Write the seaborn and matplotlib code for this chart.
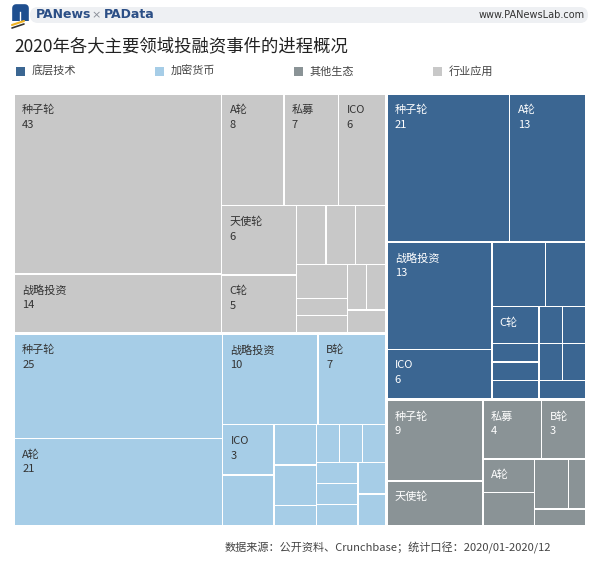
import matplotlib
matplotlib.use("Agg")
import matplotlib.pyplot as plt
from matplotlib.patches import Rectangle, FancyBboxPatch
import seaborn as sns

# legend order
groups = ["底层技术", "加密货币", "其他生态", "行业应用"]
palette = sns.color_palette(["#3b6692", "#a6cde7", "#8a9396", "#c8c8c8"])
text_colors = ["white", "#333333", "white", "#333333"]

# leaves per group ("" = cell without a label)
names = {
    "行业应用": ["种子轮", "战略投资", "A轮", "私募", "ICO", "天使轮", "C轮",
             "", "", "", "", "", "", "", "", ""],
    "加密货币": ["种子轮", "A轮", "战略投资", "B轮", "ICO", "", "", "",
             "", "", "", "", "", "", "", "", ""],
    "底层技术": ["种子轮", "A轮", "战略投资", "ICO", "", "", "C轮",
             "", "", "", "", "", "", "", ""],
    "其他生态": ["种子轮", "天使轮", "私募", "B轮", "A轮", "", "", "", ""],
}
values = {
    "行业应用": [43, 14, 8, 7, 6, 6, 5, 2, 2, 2, 2, 1, 1, 1, 1, 1],
    "加密货币": [25, 21, 10, 7, 3, 3, 2, 2, 1, 1, 1, 1, 1, 1, 1, 1, 1],
    "底层技术": [21, 13, 13, 6, 4, 3, 2, 1, 1, 1, 1, 1, 1, 1, 1],
    "其他生态": [9, 5, 4, 3, 2, 2, 2, 1, 1],
}
# labels that show the name only
no_value = {("底层技术", "C轮"), ("其他生态", "天使轮"), ("其他生态", "A轮")}

title = "2020年各大主要领域投融资事件的进程概况"
source = "数据来源：公开资料、Crunchbase；统计口径：2020/01-2020/12"

PHI = (1 + 5 ** 0.5) / 2


def squarify(vals, x0, y0, x1, y1):
    # d3 style squarified layout (target ratio = golden ratio), y grows downward
    rects = []
    total = float(sum(vals))
    i0, n = 0, len(vals)
    while i0 < n:
        dx, dy = x1 - x0, y1 - y0
        s = vals[i0]
        vmin = vmax = s
        alpha = max(dy / dx, dx / dy) / (total * PHI)
        beta = s * s * alpha
        best = max(vmax / beta, beta / vmin)
        i1 = i0 + 1
        while i1 < n:
            v = vals[i1]
            beta = (s + v) ** 2 * alpha
            r = max(max(vmax, v) / beta, beta / min(vmin, v))
            if r > best:
                break
            s += v
            vmin, vmax, best = min(vmin, v), max(vmax, v), r
            i1 += 1
        if dx < dy:
            yb = y0 + dy * s / total
            xx = x0
            for v in vals[i0:i1]:
                w = dx * v / s
                rects.append((xx, y0, w, yb - y0))
                xx += w
            y0 = yb
        else:
            xb = x0 + dx * s / total
            yy = y0
            for v in vals[i0:i1]:
                h = dy * v / s
                rects.append((x0, yy, xb - x0, h))
                yy += h
            x0 = xb
        total -= s
        i0 = i1
    return rects


sns.set_theme(style="white")
plt.rcParams["font.family"] = ["Noto Sans CJK SC", "DejaVu Sans"]

W, H = 600, 565
fig = plt.figure(figsize=(W / 100, H / 100), dpi=100)
ax = fig.add_axes([0, 0, 1, 1])
ax.set_xlim(0, W)
ax.set_ylim(H, 0)
ax.axis("off")

# header bar + logo
ax.add_patch(FancyBboxPatch((30, 7), 558, 16, boxstyle="round,pad=0,rounding_size=8",
                            fc="#eef0f3", ec="none"))
ax.plot([16, 16, 25, 25], [21, 8, 8, 21], color="#1f4f8f", lw=5.5,
        solid_joinstyle="round", solid_capstyle="butt")
ax.plot([12, 24], [25, 21], color="#f0b323", lw=1.5)
ax.plot([12, 24], [28, 24], color="#333333", lw=1.2)
ax.text(36, 15, "PANews", fontsize=9, fontweight="bold",
        color="#2c4f86", va="center", family=["DejaVu Sans"])
ax.text(96, 15, "×", fontsize=8, color="#8a8f99", va="center", ha="center",
        family=["DejaVu Sans"])
ax.text(104, 15, "PAData", fontsize=9, fontweight="bold",
        color="#2c4f86", va="center", family=["DejaVu Sans"])
ax.text(585, 15, "www.PANewsLab.com", fontsize=7, color="#333333",
        va="center", ha="right", family=["DejaVu Sans"])

ax.text(14, 46, title, fontsize=12.5, color="#222222", va="center")

# legend
for gx, g, c in zip([16, 155, 294, 433], groups, palette):
    ax.add_patch(Rectangle((gx, 67), 9, 9, fc=c, ec="none"))
    ax.text(gx + 16, 71.5, g, fontsize=8, color="#444444", va="center")

# treemap
L, T, R, B = 15, 95, 585, 525
gg, lg = 1.5, 0.75
order = sorted(groups, key=lambda g: -sum(values[g]))
grects = squarify([sum(values[g]) for g in order], L - gg, T - gg, R + gg, B + gg)
for g, (gx, gy, gw, gh) in zip(order, grects):
    gi = groups.index(g)
    x0, y0 = gx + gg, gy + gg
    x1, y1 = gx + gw - gg, gy + gh - gg
    leaves = squarify(values[g], x0 - lg, y0 - lg, x1 + lg, y1 + lg)
    for nm, v, (lx, ly, lw, lh) in zip(names[g], values[g], leaves):
        ax.add_patch(Rectangle((lx + lg, ly + lg), lw - 2 * lg, lh - 2 * lg,
                               fc=palette[gi], ec="none", lw=0))
        if nm:
            ax.text(lx + 8, ly + 16, nm, fontsize=8, color=text_colors[gi], va="center")
            if (g, nm) not in no_value:
                ax.text(lx + 8, ly + 31, str(v), fontsize=8, color=text_colors[gi],
                        va="center")

ax.text(225, 548, source, fontsize=8, color="#444444", va="center")

fig.savefig("out.png", dpi=100, facecolor="white")
